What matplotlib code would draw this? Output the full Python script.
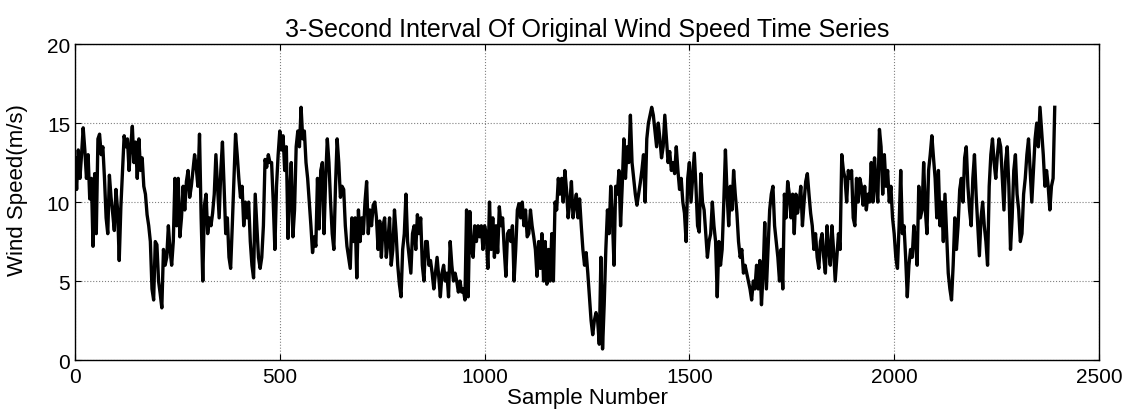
import numpy as np
import matplotlib.pyplot as plt

plt.rcParams["font.family"] = ["Liberation Sans", "DejaVu Sans"]

# wind speed, one value every 4 samples
speed_a = [12.8, 10.8, 13.3, 11.5, 13.0, 14.7, 13.3, 11.5, 13.0, 10.2, 11.5, 7.2, 11.8, 8.0, 14.0, 14.3,
           13.0, 13.5, 11.5, 9.0, 8.0, 11.7, 10.3, 9.3, 8.2, 10.8, 9.5, 6.3, 9.7, 12.0, 14.2, 13.5,
           14.0, 12.0, 13.5, 14.8, 12.5, 13.8, 11.5, 14.0, 12.0, 12.8, 11.0, 10.5, 9.2, 8.5, 7.5, 4.5,
           3.8, 7.5, 7.3, 5.0, 4.2, 3.3, 7.0, 6.0, 6.5, 8.5, 7.0, 6.0, 7.5, 11.5, 8.5, 11.5,
           7.8, 9.0, 11.0, 9.5, 11.3, 12.0, 10.3, 11.0, 12.0, 13.0, 12.2, 11.0, 14.3, 9.0, 5.0, 9.8,
           10.5, 8.0, 9.0, 8.5, 9.3, 10.5, 13.0, 11.0, 9.0, 12.0, 13.8, 11.0, 8.0, 9.0, 6.5, 5.8,
           8.5, 11.5, 14.3, 13.0, 11.5, 10.3, 11.0, 8.5, 10.0, 9.0, 10.0, 7.5, 6.0, 5.2, 10.5, 8.5,
           6.5, 5.8, 6.5, 8.5, 12.7, 12.2, 13.0, 12.5]
speed_b = [12.5, 10.0, 7.0, 11.0, 13.0, 14.5, 13.3, 14.2, 12.0, 13.5, 7.7, 10.5, 12.5, 7.8, 9.5, 13.5,
           14.5, 13.5, 16.0, 14.0, 14.5, 12.5, 11.5, 10.0, 8.5, 6.8, 7.8, 7.2, 11.5, 8.3, 12.0, 12.5,
           8.0, 11.5, 14.0, 12.5, 10.0, 8.0, 7.0, 11.0, 14.0, 12.5, 10.3, 11.0, 10.8, 8.5, 7.2, 6.5,
           5.8, 9.0, 7.5, 9.0, 5.2, 9.5, 7.5, 9.0, 8.0, 10.0, 11.3, 8.0, 9.5, 8.5, 9.8, 10.0,
           9.0, 7.0, 8.8, 6.5, 8.5, 9.0, 6.5, 7.5, 9.0, 6.0, 7.0, 9.5, 8.0, 6.0, 4.8, 4.0,
           7.0, 8.0, 10.5, 7.5, 6.5, 5.5, 8.0, 8.5, 7.0, 9.2, 8.0, 9.0, 6.0, 5.0, 7.5, 7.5,
           6.0, 6.3, 5.5, 4.5, 5.5, 6.5, 5.3, 4.0, 5.5, 6.0, 5.0, 5.5, 4.0, 7.5, 6.0, 5.0,
           5.5, 5.0, 4.3, 5.0, 4.3, 4.5, 3.8, 9.5]
speed_c = [4.0, 9.4, 7.0, 6.5, 8.5, 7.5, 8.5, 7.8, 8.5, 7.0, 8.5, 8.0, 5.8, 10.0, 7.0, 9.0,
           6.5, 8.5, 6.8, 9.7, 8.5, 9.0, 7.0, 5.3, 8.0, 8.2, 7.5, 8.5, 5.0, 7.0, 9.5, 9.9,
           9.0, 10.0, 8.5, 9.5, 7.8, 8.0, 9.5, 8.5, 7.8, 7.0, 5.3, 7.5, 5.8, 8.0, 5.0, 7.5,
           4.8, 7.0, 5.0, 8.0, 5.0, 10.0, 9.5, 11.5, 10.5, 11.5, 10.0, 12.0, 10.8, 9.0, 10.0, 11.3,
           9.0, 9.8, 10.5, 9.0, 10.2, 8.5, 7.0, 6.0, 6.8, 5.5, 4.0, 2.5, 1.6, 2.5, 3.0, 2.5,
           1.0, 6.5, 0.7, 3.5, 7.0, 9.5, 8.0, 11.0, 9.0, 6.0, 11.0, 10.5, 12.0, 8.5, 11.0, 14.0,
           11.5, 13.5, 12.5, 15.5, 12.5, 11.5, 10.5, 9.8, 10.5, 11.2, 12.0, 13.0, 10.0, 14.0, 15.0, 15.5,
           16.0, 15.5, 14.5, 13.5, 15.0, 14.0, 12.8, 13.5]
speed_d = [15.5, 14.0, 12.5, 13.2, 12.0, 12.5, 11.8, 13.5, 12.0, 10.8, 11.5, 10.0, 9.3, 7.5, 11.5, 12.5,
           10.0, 11.5, 13.1, 11.0, 8.5, 8.1, 11.8, 10.0, 9.5, 8.0, 6.5, 7.5, 8.0, 10.0, 8.5, 7.5,
           4.0, 7.5, 6.0, 7.0, 10.0, 13.3, 10.5, 8.5, 11.0, 9.5, 12.0, 10.5, 9.3, 7.5, 6.5, 7.0,
           5.5, 6.0, 5.5, 5.0, 4.5, 3.8, 5.0, 4.5, 6.0, 4.5, 6.3, 3.5, 5.5, 8.7, 4.5, 7.0,
           9.5, 10.5, 11.0, 8.5, 7.5, 6.5, 5.0, 7.0, 4.5, 10.5, 9.0, 11.3, 10.5, 9.0, 10.5, 8.0,
           10.5, 9.3, 10.0, 11.0, 8.5, 10.0, 11.3, 11.8, 10.5, 9.3, 8.5, 7.0, 8.0, 6.5, 5.8, 7.5,
           8.0, 6.5, 5.5, 8.5, 7.0, 6.0, 8.5, 7.0, 5.0, 6.5, 8.0, 7.0, 13.0, 12.0, 11.5, 10.0,
           12.0, 11.5, 12.0, 9.0, 8.5, 11.5, 10.0, 11.5]
speed_e = [11.0, 9.8, 11.0, 9.5, 10.5, 10.0, 12.5, 10.0, 12.8, 11.0, 10.0, 14.6, 13.5, 10.5, 13.0, 11.0,
           12.0, 10.0, 11.0, 9.0, 8.0, 6.5, 5.8, 8.5, 12.0, 8.0, 8.5, 6.5, 4.0, 6.0, 7.0, 6.5,
           8.5, 7.5, 6.0, 11.0, 9.0, 9.5, 12.5, 9.5, 8.0, 12.0, 13.0, 14.2, 12.8, 11.5, 9.0, 12.0,
           8.5, 10.0, 7.5, 10.5, 8.0, 5.5, 4.5, 3.8, 6.0, 9.0, 7.0, 8.5, 10.8, 11.5, 10.0, 12.8,
           13.5, 11.0, 9.5, 8.5, 11.5, 13.0, 10.5, 8.5, 6.6, 9.0, 10.0, 8.5, 7.5, 6.0, 11.0, 13.0,
           14.0, 12.5, 11.5, 13.0, 14.0, 13.5, 11.5, 9.5, 12.5, 13.5, 11.0, 7.0, 9.0, 12.0, 13.0, 10.5,
           9.5, 7.5, 8.0, 10.5, 11.5, 13.0, 14.0, 12.0, 10.0, 12.0, 14.0, 15.0, 13.5, 16.0, 14.5, 13.0,
           11.0, 12.0, 11.0, 9.5, 11.0, 11.5, 16.0]

speed = np.array(speed_a + speed_b + speed_c + speed_d + speed_e)
sample = np.arange(len(speed)) * 4

fig = plt.figure(figsize=(11.26, 4.14), dpi=100)
ax = fig.add_axes([0.0666, 0.128, 0.9094, 0.763])

ax.plot(sample, speed, color="black", lw=2.4)

ax.set_xlim(0, 2500)
ax.set_ylim(0, 20)
ax.set_xticks([0, 500, 1000, 1500, 2000, 2500])
ax.set_yticks([0, 5, 10, 15, 20])
ax.grid(True, color="#808080", ls=":", lw=0.8)
ax.tick_params(direction="in", top=True, right=True, labelsize=15, length=4)
ax.tick_params(axis="x", pad=5)
for s in ax.spines.values():
    s.set_linewidth(1)

ax.set_title("3-Second Interval Of Original Wind Speed Time Series", fontsize=18, pad=6)
ax.set_xlabel("Sample Number", fontsize=16, labelpad=1)
ax.set_ylabel("Wind Speed(m/s)", fontsize=16)
ax.yaxis.set_label_coords(-0.046, 0.54)

fig.savefig("out.png", dpi=100)
